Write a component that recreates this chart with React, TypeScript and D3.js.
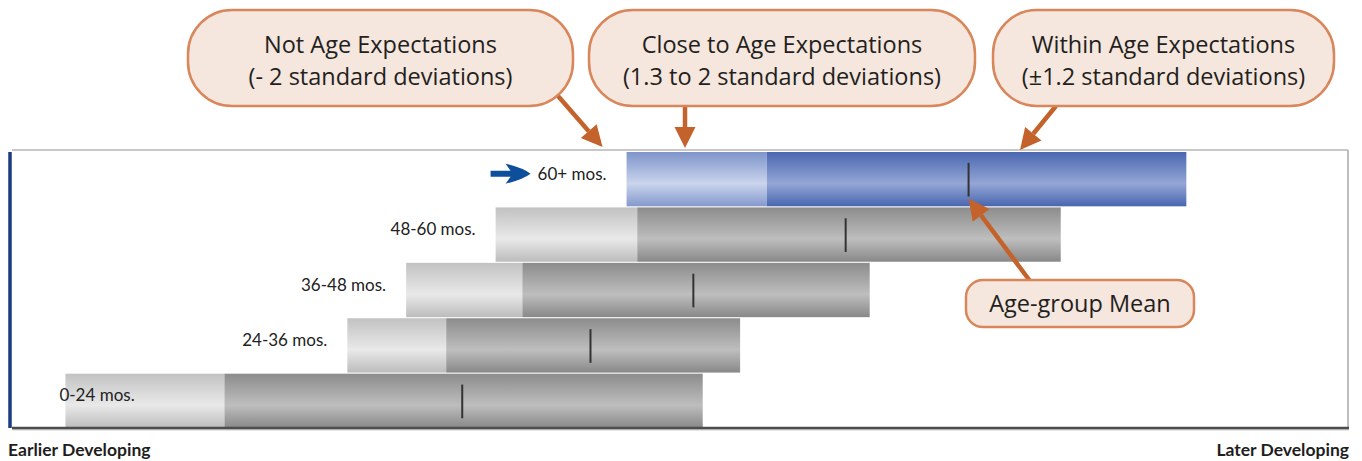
import React from 'react';
import * as d3 from 'd3';

// age groups, top to bottom
const groups = ['60+ mos.', '48-60 mos.', '36-48 mos.', '24-36 mos.', '0-24 mos.'];
// developmental scale, 0 = earlier, 100 = later
const notAgeEnd = [46.0, 36.2, 29.5, 25.1, 4.0];
const closeEnd = [56.5, 46.8, 38.2, 32.5, 15.9];
const withinEnd = [87.9, 78.5, 64.2, 54.5, 51.7];
const groupMean = [71.6, 62.4, 51.0, 43.3, 33.7];
const highlighted = '60+ mos.';

const W = 1362;
const H = 461;
const plot = { left: 12, right: 1348, top: 152, bottom: 428 };
const orange = '#c4622b';
const boxFill = '#f5e6de';
const boxStroke = '#d8865a';
const labelFont = "Lato, 'Open Sans', sans-serif";
const calloutFont = "'Open Sans', sans-serif";

const x = d3.scaleLinear().domain([0, 100]).range([plot.left, plot.right]);
const y = d3.scaleBand<string>().domain(groups).range([plot.top, plot.bottom]).paddingInner(0.02);

const callouts = [
  { x: 188, y: 10, w: 385, h: 96, lines: ['Not Age Expectations', '(- 2 standard deviations)'] },
  { x: 589, y: 10, w: 386, h: 96, lines: ['Close to Age Expectations', '(1.3 to 2 standard deviations)'] },
  { x: 993, y: 10, w: 341, h: 96, lines: ['Within Age Expectations', '(\u00b11.2 standard deviations)'] },
];

function arrow(x1: number, y1: number, x2: number, y2: number, key: string) {
  const a = Math.atan2(y2 - y1, x2 - x1);
  const len = 21;
  const hw = 10.5;
  const bx = x2 - len * Math.cos(a);
  const by = y2 - len * Math.sin(a);
  const px = -Math.sin(a) * hw;
  const py = Math.cos(a) * hw;
  return (
    <g key={key}>
      <line x1={x1} y1={y1} x2={bx} y2={by} stroke={orange} strokeWidth={4.5} />
      <path d={`M${x2},${y2} L${bx + px},${by + py} L${bx - px},${by - py} Z`} fill={orange} />
    </g>
  );
}

export default function App() {
  const i0 = groups.indexOf(highlighted);
  const topY = y(highlighted)!;
  const bw = y.bandwidth();
  const tickTop = (g: string) => y(g)! + bw * 0.2;
  const tickBot = (g: string) => y(g)! + bw * 0.82;

  const grad = (id: string, top: string, mid: string, bot: string) => (
    <linearGradient id={id} x1="0" y1="0" x2="0" y2="1">
      <stop offset="0" stopColor={top} />
      <stop offset="0.58" stopColor={mid} />
      <stop offset="1" stopColor={bot} />
    </linearGradient>
  );

  return (
    <svg width={W} height={H} style={{ display: 'block', position: 'absolute', left: 0, top: 0 }}>
      <defs>
        {grad('gLight', '#c2c2c2', '#e9e9e9', '#bcbcbc')}
        {grad('gDark', '#8c8c8c', '#bebebe', '#888888')}
        {grad('bLight', '#7e94ca', '#cad4ec', '#8499cd')}
        {grad('bDark', '#4a67b0', '#94a6d5', '#4966af')}
      </defs>

      {/* frame */}
      <line x1={plot.left} y1={plot.top - 2} x2={plot.right} y2={plot.top - 2} stroke="#c8c8c8" strokeWidth={2} />
      <line x1={plot.right} y1={plot.top - 2} x2={plot.right} y2={plot.bottom} stroke="#a8a8a8" strokeWidth={1.5} />

      {/* bars */}
      {groups.map((g, i) => {
        const hi = g === highlighted;
        const yy = y(g)!;
        return (
          <g key={g}>
            <rect x={x(notAgeEnd[i])} y={yy} width={x(closeEnd[i]) - x(notAgeEnd[i])} height={bw}
              fill={hi ? 'url(#bLight)' : 'url(#gLight)'} />
            <rect x={x(closeEnd[i])} y={yy} width={x(withinEnd[i]) - x(closeEnd[i])} height={bw}
              fill={hi ? 'url(#bDark)' : 'url(#gDark)'} />
            <line x1={x(groupMean[i])} x2={x(groupMean[i])} y1={tickTop(g)} y2={tickBot(g)}
              stroke="#333" strokeWidth={2} />
          </g>
        );
      })}

      {/* row labels */}
      {groups.map((g, i) => {
        const sx = x(notAgeEnd[i]);
        const inside = sx - 20 < plot.left + 140;
        return (
          <text key={g} x={inside ? sx - 6 : sx - 20} y={y(g)! + bw * 0.4} dy="0.35em"
            textAnchor={inside ? 'start' : 'end'} fontFamily={labelFont}
            fontSize={17} fill="#222">{g}</text>
        );
      })}

      {/* highlight arrow */}
      {(() => {
        const ay = topY + bw * 0.4;
        const ex = x(notAgeEnd[i0]) - 96;
        return (
          <path d={`M${ex - 40},${ay - 3} L${ex - 20},${ay - 3} L${ex - 25},${ay - 10}
            Q${ex - 8},${ay - 6} ${ex},${ay} Q${ex - 8},${ay + 6} ${ex - 25},${ay + 10}
            L${ex - 20},${ay + 3} L${ex - 40},${ay + 3} Z`} fill="#0e4f9c" />
        );
      })()}

      {/* axes */}
      <line x1={plot.left} y1={plot.bottom + 1} x2={plot.right + 1} y2={plot.bottom + 1} stroke="#cfcfcf" strokeWidth={3} />
      <line x1={plot.left} y1={plot.bottom} x2={plot.right + 1} y2={plot.bottom} stroke="#4d4d4d" strokeWidth={2.5} />
      <line x1={plot.left - 2} y1={plot.top} x2={plot.left - 2} y2={plot.bottom} stroke="#1c3a80" strokeWidth={3.5} />
      <text x={8} y={456} fontFamily={labelFont} fontWeight="bold" fontSize={17.5} fill="#1e1e1e">Earlier Developing</text>
      <text x={1349} y={456} textAnchor="end" fontFamily={labelFont} fontWeight="bold" fontSize={17.5} fill="#1e1e1e">Later Developing</text>

      {/* callout arrows */}
      {arrow(558, 96, x(notAgeEnd[i0]) - 24, topY - 5, 'a1')}
      {arrow(685, 106, 685, topY - 4, 'a2')}
      {arrow(1056, 106, 1020, topY - 2, 'a3')}
      {arrow(1030, 281, x(groupMean[i0]), tickBot(highlighted) + 2, 'a4')}

      {/* callout boxes */}
      {callouts.map((c) => (
        <g key={c.lines[0]}>
          <rect x={c.x} y={c.y} width={c.w} height={c.h} rx={44} ry={44} fill={boxFill} stroke={boxStroke} strokeWidth={2.5} />
          {c.lines.map((l, k) => (
            <text key={l} x={c.x + c.w / 2} y={c.y + 35 + k * 32} dy="0.35em" textAnchor="middle"
              fontFamily={calloutFont} fontSize={23.5} fill="#231f20">{l}</text>
          ))}
        </g>
      ))}
      <rect x={966} y={280} width={228} height={47} rx={17} ry={17} fill={boxFill} stroke={boxStroke} strokeWidth={2.5} />
      <text x={1080} y={304} dy="0.35em" textAnchor="middle" fontFamily={calloutFont} fontSize={23.5} fill="#231f20">Age-group Mean</text>
    </svg>
  );
}
